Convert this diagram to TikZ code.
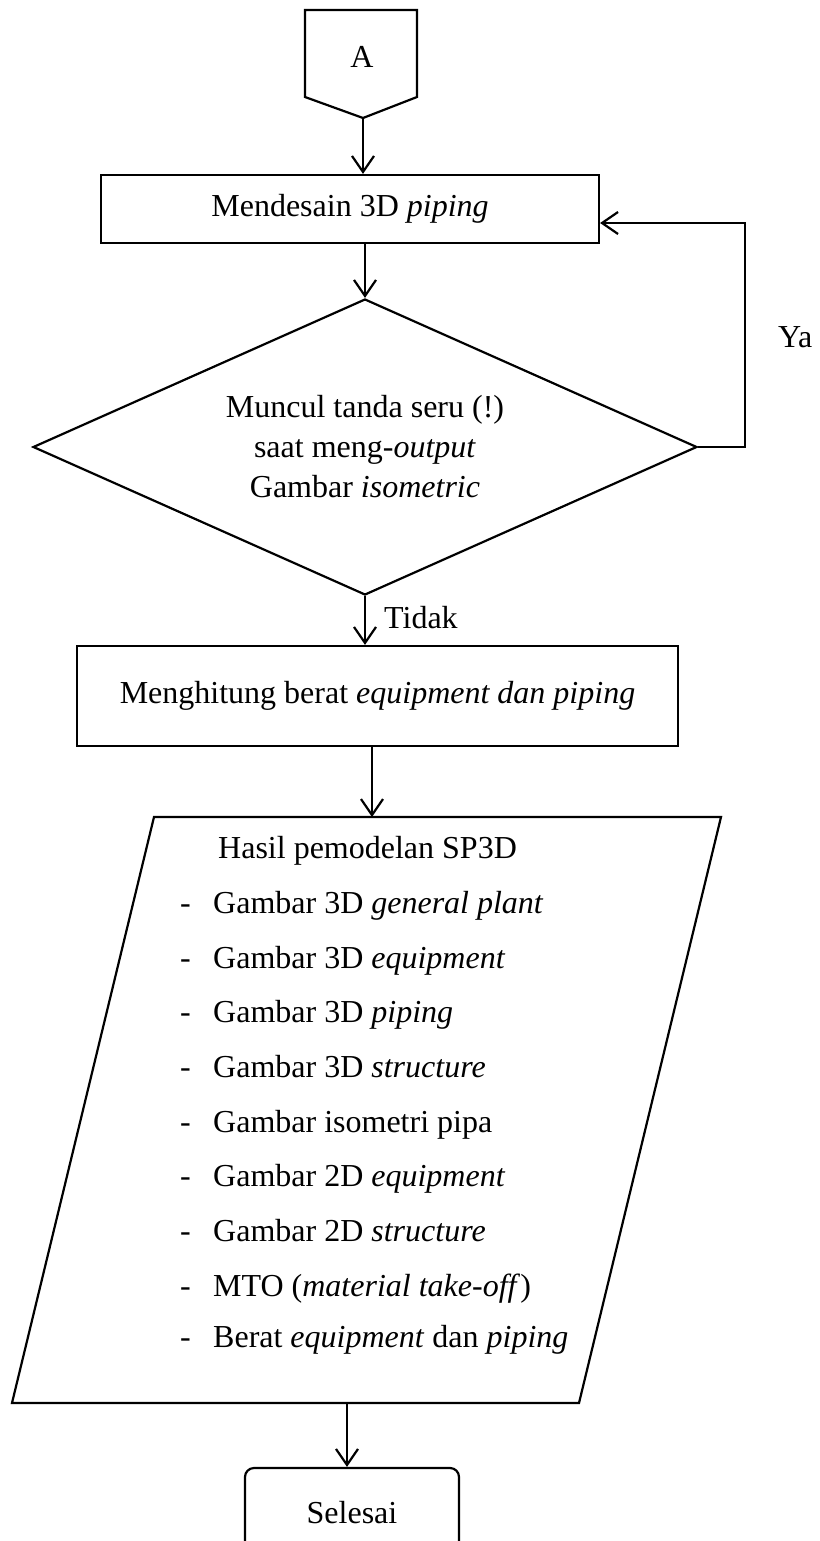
\documentclass[tikz,border=0pt]{standalone}
\usepackage{fontspec}
\setmainfont{Liberation Serif}
\usetikzlibrary{positioning,shapes.geometric,arrows.meta}

\begin{document}
\begin{tikzpicture}[x=1pt,y=-1pt]

\tikzstyle{texte}=[font=\fontsize{32}{40}\selectfont]
\tikzstyle{etiq}=[texte, inner sep=0pt]
\tikzstyle{instruct}=[rectangle, draw, line width=2.2pt, texte, inner sep=0pt]
\tikzstyle{test}=[diamond, draw, line width=2.2pt, aspect=2.24, texte, align=center, inner sep=0pt]
\tikzstyle{fin}=[rectangle, draw, rounded corners=9pt, line width=2.2pt, texte]
\tikzstyle{forme}=[draw, line width=2.2pt, line join=miter]
\tikzstyle{suite}=[-{Straight Barb[length=16pt,width=22pt]}, line width=2.2pt]

\useasboundingbox (0,0) rectangle (819,1541);

%les noeuds
\node[etiq] (A) at (362,57) {A};
\coordinate (Apointe) at (363,118);
\draw[forme] (305,10) -- (417,10) -- (417,97) -- (Apointe) -- (305,97) -- cycle;

\node[instruct, minimum width=498pt, minimum height=68pt] (dessin) at (350,209) {Mendesain 3D \textit{piping}};
\node[test, minimum width=664pt, minimum height=296pt] (seru) at (365,447) {Muncul tanda seru (!)\\saat meng-\textit{output}\\Gambar \textit{isometric}};
\node[instruct, minimum width=601pt, minimum height=100pt] (berat) at (377.5,696) {Menghitung berat \textit{equipment dan piping}};

\coordinate (Phaut) at (372,817);
\coordinate (Pbas) at (347,1403);
\draw[forme] (154,817) -- (721,817) -- (579,1403) -- (12,1403) -- cycle;
\node[etiq, anchor=base west] (titre) at (218,858) {Hasil pemodelan SP3D};
\foreach \y/\ligne [count=\i] in {913/Gambar 3D \textit{general plant}, 968/Gambar 3D \textit{equipment}, 1022/Gambar 3D \textit{piping}, 1077/Gambar 3D \textit{structure}, 1132/Gambar isometri pipa, 1186/Gambar 2D \textit{equipment}, 1241/Gambar 2D \textit{structure}, 1296/MTO (\textit{material take-off}), 1347/Berat \textit{equipment} dan \textit{piping}}
{
  \node[etiq, anchor=base west] (tiret\i) at (180,\y) {-};
  \node[etiq, anchor=base west] (point\i) at (213,\y) {\ligne};
}

\node[fin, minimum width=214pt, minimum height=90pt] (selesai) at (352,1513) {Selesai};

\node[etiq, anchor=base west] (ya) at (778,347) {Ya};
\node[etiq, anchor=base west] (tidak) at (384,628) {Tidak};

%les fleches
\draw[suite] (Apointe) -- (Apointe |- dessin.north);
\draw[suite] (seru.north |- dessin.south) -- (seru.north);
\draw[suite] (seru.south) -- (seru.south |- berat.north);
\draw[suite] (Phaut |- berat.south) -- (Phaut);
\draw[suite] (Pbas) -- (Pbas |- selesai.north);
\coordinate (retour) at (745,223);
\draw[suite] (seru.east) -| (retour) -- (dessin.east |- retour);
\end{tikzpicture}
\end{document}
